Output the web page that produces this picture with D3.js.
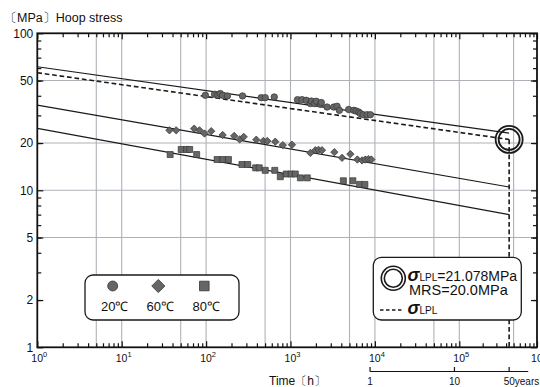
<!DOCTYPE html>
<html>
<head>
<meta charset="utf-8">
<script src="https://cdn.jsdelivr.net/npm/d3@7"></script>
<style>
  body { margin: 0; background: #fff; }
  svg text { font-family: "Liberation Sans", Arial, sans-serif; fill: #111; }
</style>
</head>
<body>
<svg id="chart" width="540" height="387"></svg>
<script>
// test data (hours, MPa)
const t20 = [98, 126, 137, 147, 157, 179, 270, 450, 502, 642, 1210, 1370, 1540, 1720, 1770, 1930, 2020, 2260, 2320, 2710, 3250, 3560, 3790, 4890, 5610, 5990, 6430, 6730, 7250, 8080, 8850];
const s20 = [40.3, 40.9, 40.3, 41.3, 40.3, 39.9, 39.9, 38.9, 38.9, 39.3, 37.8, 37.8, 37.4, 35.7, 37.0, 35.7, 36.9, 35.3, 36.2, 33.9, 33.9, 34.3, 32.3, 32.7, 32.3, 32.0, 31.5, 30.8, 30.3, 30.3, 30.3];
const t60 = [36.8, 44.2, 72.2, 83.5, 95.7, 115, 157, 215, 250, 279, 393, 476, 531, 660, 811, 1040, 1720, 1970, 2150, 2360, 3310, 4080, 5120, 6200, 7050, 7710, 8370, 9080];
const s60 = [24.1, 24.1, 24.7, 24.1, 23.0, 23.8, 22.5, 22.2, 21.1, 21.9, 21.0, 20.6, 20.6, 20.4, 19.4, 19.5, 17.3, 18.0, 18.1, 18.0, 17.5, 16.1, 17.0, 15.7, 15.5, 15.7, 15.8, 15.7];
const t80 = [37.5, 50.7, 58.9, 63.9, 77.3, 135, 158, 184, 266, 311, 387, 426, 502, 651, 757, 892, 1020, 1140, 1310, 1580, 4230, 5480, 6590, 7610];
const s80 = [16.9, 18.2, 18.2, 18.2, 16.9, 15.7, 15.7, 15.7, 14.6, 14.6, 13.9, 13.9, 13.4, 13.4, 12.2, 12.7, 12.7, 12.7, 12.0, 12.0, 11.5, 11.5, 10.9, 10.9];

// regression lines, from 1 h to 50 years
const fitT = [1, 438000];
const fit20 = [61.2, 23.1];
const fit60 = [34.9, 10.5];
const fit80 = [24.8, 7.0];
const lpl = [56.1, 21.078];
const t50 = 438000;
const sigmaLPL = 21.078;

// axes
const xMajor = [1, 10, 100, 1000, 1e4, 1e5, 1e6];
const xGrid = [5, 10, 50, 100, 500, 1000, 5000, 1e4, 5e4, 1e5, 5e5];
const yLabels = [1, 2, 5, 10, 20, 50, 100];
const yGrid = [5, 10, 20, 50];
const yearTicks = [1, 10, 50];
const yearLabels = ['1', '10', '50years'];
const legendTemps = ['20℃', '60℃', '80℃'];

const svg = d3.select('#chart');
const pl = 37.3, pr = 537, pt = 33.3, pb = 347.3;

// the scanned scale is a bit shorter in the last decade
const x = d3.scaleLog().domain([1, 1e5, 1e6]).range([pl, 459.3, pr]);
const y = d3.scaleLog().domain([1, 100]).range([pb, pt]);

// grid
svg.append('g').selectAll('line').data(xGrid).join('line')
  .attr('x1', d => x(d)).attr('x2', d => x(d))
  .attr('y1', pt).attr('y2', pb)
  .attr('stroke', '#aeb2b7').attr('stroke-width', 1.1);
svg.append('g').selectAll('line').data(yGrid).join('line')
  .attr('x1', pl).attr('x2', pr)
  .attr('y1', d => y(d)).attr('y2', d => y(d))
  .attr('stroke', '#aeb2b7').attr('stroke-width', 1.1);

// ticks (inward on all sides)
const xMinor = [];
for (let e = 0; e < 6; e++) for (let m = 2; m <= 9; m++) xMinor.push(m * 10 ** e);
const yMinor = [];
for (let e = 0; e < 2; e++) for (let m = 2; m <= 9; m++) yMinor.push(m * 10 ** e);

function tickAxis(axisFn, scale, values, size, transform) {
  const g = svg.append('g').attr('transform', transform)
    .call(axisFn(scale).tickValues(values).tickSize(size).tickFormat(''));
  g.select('.domain').remove();
  g.selectAll('.tick line').attr('stroke', '#111').attr('stroke-width', 1.2);
}
tickAxis(d3.axisBottom, x, xMinor, -4, `translate(0,${pb})`);
tickAxis(d3.axisBottom, x, xMajor, -6, `translate(0,${pb})`);
tickAxis(d3.axisTop, x, xMinor, -4, `translate(0,${pt})`);
tickAxis(d3.axisTop, x, xMajor, -6, `translate(0,${pt})`);
tickAxis(d3.axisLeft, y, yMinor, -4, `translate(${pl},0)`);
tickAxis(d3.axisLeft, y, yLabels, -6, `translate(${pl},0)`);
tickAxis(d3.axisRight, y, yMinor, -4, `translate(${pr},0)`);
tickAxis(d3.axisRight, y, yLabels, -6, `translate(${pr},0)`);

// frame
svg.append('rect')
  .attr('x', pl).attr('y', pt)
  .attr('width', pr - pl).attr('height', pb - pt)
  .attr('fill', 'none').attr('stroke', '#111').attr('stroke-width', 1.8);

// tick labels
svg.append('g').selectAll('text').data(yLabels).join('text')
  .attr('x', pl - 4).attr('y', d => y(d)).attr('dy', '0.35em')
  .attr('text-anchor', 'end').attr('font-size', 12).text(d => d);

svg.append('g').selectAll('text').data(xMajor).join('text')
  .attr('x', d => x(d) + 2).attr('y', 361.5)
  .attr('text-anchor', 'middle').attr('font-size', 10.5)
  .each(function (d) {
    const t = d3.select(this);
    t.append('tspan').text('10');
    t.append('tspan').attr('dy', -4.5).attr('font-size', 7.5).text(Math.round(Math.log10(d)));
  });

svg.append('text').attr('x', 4).attr('y', 22).attr('font-size', 12.5).text('〔MPa〕Hoop stress');
svg.append('text').attr('x', 269).attr('y', 385).attr('font-size', 12).text('Time〔h〕');

// years sub-axis
const yrX = d => x(d * 8760);
svg.append('line').attr('x1', yrX(1)).attr('x2', yrX(88)).attr('y1', 371.5).attr('y2', 371.5)
  .attr('stroke', '#111').attr('stroke-width', 1.2);
svg.append('g').selectAll('line').data(yearTicks).join('line')
  .attr('x1', d => yrX(d)).attr('x2', d => yrX(d))
  .attr('y1', 371.5).attr('y2', 367)
  .attr('stroke', '#111').attr('stroke-width', 1.2);
svg.append('g').selectAll('text').data(yearTicks).join('text')
  .attr('x', (d, i) => i < 2 ? yrX(d) : yrX(d) - 5.5)
  .attr('y', 384.5).attr('font-size', 10)
  .attr('text-anchor', (d, i) => i < 2 ? 'middle' : 'start')
  .text((d, i) => yearLabels[i]);

// regression lines
const line = d3.line().x(d => x(d[0])).y(d => y(d[1]));
[fit20, fit60, fit80].forEach(f => {
  svg.append('path').datum(d3.zip(fitT, f)).attr('d', line)
    .attr('fill', 'none').attr('stroke', '#1a1a1a').attr('stroke-width', 1.2);
});
svg.append('path').datum(d3.zip(fitT, lpl)).attr('d', line)
  .attr('fill', 'none').attr('stroke', '#1a1a1a').attr('stroke-width', 1.6)
  .attr('stroke-dasharray', '4.7,2.8');
svg.append('line')
  .attr('x1', x(t50)).attr('x2', x(t50))
  .attr('y1', y(sigmaLPL)).attr('y2', pb)
  .attr('stroke', '#1a1a1a').attr('stroke-width', 1.6)
  .attr('stroke-dasharray', '4.7,2.8');

// data points
const markFill = '#666', markStroke = '#363636';
const symCircle = d3.symbol(d3.symbolCircle, 33);
const symSquare = d3.symbol(d3.symbolSquare, 36);
const symDiamond = d3.symbol(d3.symbolSquare, 27);

function plotPoints(ts, ss, sym, rot) {
  svg.append('g').selectAll('path').data(d3.zip(ts, ss)).join('path')
    .attr('d', sym)
    .attr('transform', d => `translate(${x(d[0])},${y(d[1])}) rotate(${rot})`)
    .attr('fill', markFill).attr('stroke', markStroke).attr('stroke-width', 0.7);
}
plotPoints(t20, s20, symCircle, 0);
plotPoints(t60, s60, symDiamond, 45);
plotPoints(t80, s80, symSquare, 0);

// double circle at 50 years
[13.5, 10.5].forEach(r => {
  svg.append('circle').attr('cx', x(t50)).attr('cy', y(sigmaLPL)).attr('r', r)
    .attr('fill', 'none').attr('stroke', '#1a1a1a').attr('stroke-width', 1.8);
});

// legend: temperatures
svg.append('rect').attr('x', 85).attr('y', 275).attr('width', 154).attr('height', 45)
  .attr('rx', 8).attr('fill', '#fff').attr('stroke', '#1a1a1a').attr('stroke-width', 1.3);
const legX = [112.7, 158.3, 204.3];
const legSym = [d3.symbol(d3.symbolCircle, 78), d3.symbol(d3.symbolSquare, 86), d3.symbol(d3.symbolSquare, 92)];
const legRot = [0, 45, 0];
legX.forEach((lx, i) => {
  svg.append('path').attr('d', legSym[i])
    .attr('transform', `translate(${lx},286) rotate(${legRot[i]})`)
    .attr('fill', markFill).attr('stroke', markStroke).attr('stroke-width', 0.8);
  svg.append('text').attr('x', lx + 2).attr('y', 310.5).attr('text-anchor', 'middle')
    .attr('font-size', 13).text(legendTemps[i]);
});

// legend: LPL
svg.append('rect').attr('x', 373.3).attr('y', 257.3).attr('width', 148).attr('height', 62.7)
  .attr('rx', 8).attr('fill', '#fff').attr('stroke', '#1a1a1a').attr('stroke-width', 1.3);
[12, 9].forEach(r => {
  svg.append('circle').attr('cx', 393.3).attr('cy', 278.3).attr('r', r)
    .attr('fill', 'none').attr('stroke', '#1a1a1a').attr('stroke-width', 1.6);
});
function sigmaText(xp, yp) {
  const t = svg.append('text').attr('x', xp).attr('y', yp);
  t.append('tspan').attr('font-size', 18).attr('font-style', 'italic').attr('font-weight', 'bold').text('σ');
  t.append('tspan').attr('font-size', 10).text('LPL');
  return t;
}
sigmaText(407.5, 280.5).append('tspan').attr('font-size', 14).text('=' + sigmaLPL.toFixed(3) + 'MPa');
svg.append('text').attr('x', 409).attr('y', 295).attr('font-size', 14.5).text('MRS=20.0MPa');
svg.append('line').attr('x1', 380).attr('x2', 402).attr('y1', 310).attr('y2', 310)
  .attr('stroke', '#1a1a1a').attr('stroke-width', 1.5).attr('stroke-dasharray', '3.5,2.5');
sigmaText(407.5, 314);
</script>
</body>
</html>
